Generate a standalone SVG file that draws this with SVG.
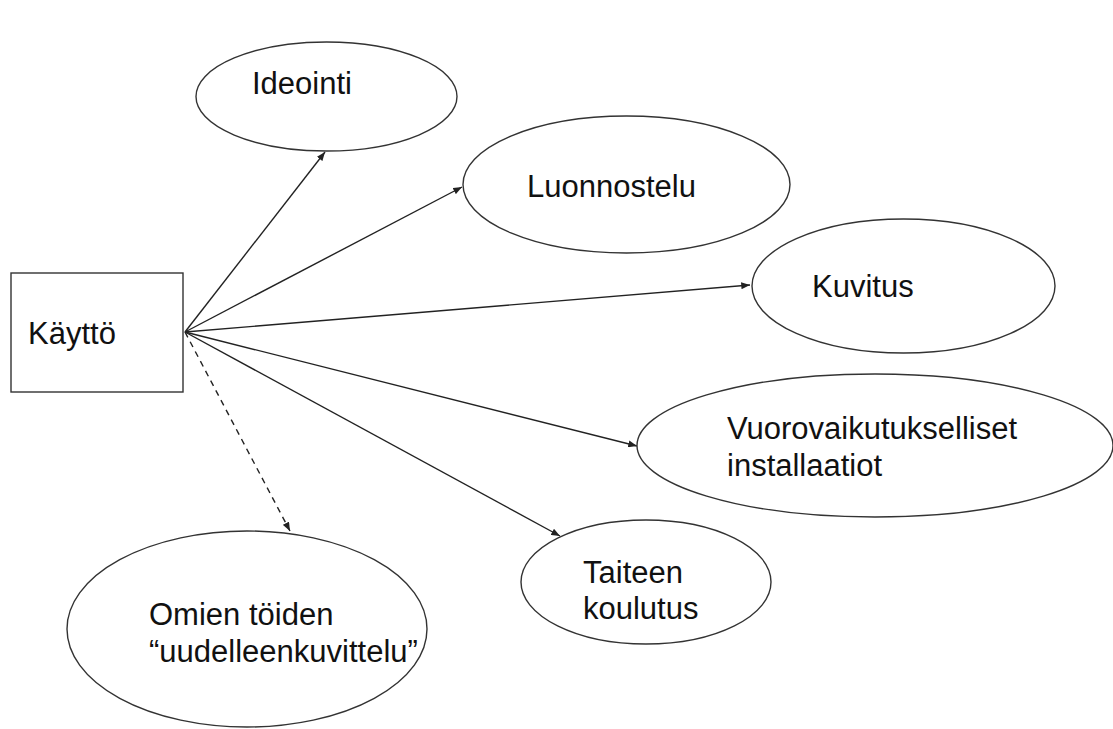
<svg xmlns="http://www.w3.org/2000/svg" width="1113" height="729" viewBox="0 0 1113 729">
  <defs>
    <marker id="arrow" viewBox="0 0 10 8" refX="10" refY="4" markerWidth="9" markerHeight="7" markerUnits="userSpaceOnUse" orient="auto">
      <path d="M0,0 L10,4 L0,8 Z" fill="#222"/>
    </marker>
    <style>
      .shape { fill: #fff; stroke: #333; stroke-width: 1.4; }
      .label { font-family: "Liberation Sans", Arial, sans-serif; font-size: 31px; fill: #111; }
      .link { stroke: #222; stroke-width: 1.4; fill: none; marker-end: url(#arrow); }
      .dashed { stroke-dasharray: 6 5; }
    </style>
  </defs>
  <rect width="1113" height="729" fill="#fff"/>

  <g id="connectors">
    <line class="link" x1="185" y1="332" x2="325" y2="152"/>
    <line class="link" x1="185" y1="332" x2="462" y2="187"/>
    <line class="link" x1="185" y1="332" x2="750" y2="285"/>
    <line class="link" x1="185" y1="332" x2="637" y2="446"/>
    <line class="link" x1="185" y1="332" x2="560" y2="536"/>
    <line class="link dashed" x1="185" y1="332" x2="290" y2="531"/>
  </g>

  <g id="kaytto">
    <rect class="shape" x="11" y="273" width="172" height="119"/>
    <text class="label" x="28" y="344">Käyttö</text>
  </g>

  <g id="ideointi">
    <ellipse class="shape" cx="326.5" cy="96.5" rx="130.5" ry="54.5"/>
    <text class="label" x="252" y="94">Ideointi</text>
  </g>

  <g id="luonnostelu">
    <ellipse class="shape" cx="626.5" cy="184.5" rx="163.5" ry="68.5"/>
    <text class="label" x="527" y="197">Luonnostelu</text>
  </g>

  <g id="kuvitus">
    <ellipse class="shape" cx="903.5" cy="286" rx="151.5" ry="67"/>
    <text class="label" x="812" y="297">Kuvitus</text>
  </g>

  <g id="vuorovaikutukselliset">
    <ellipse class="shape" cx="875" cy="445.5" rx="238" ry="71.5"/>
    <text class="label" x="727" y="439">Vuorovaikutukselliset</text>
    <text class="label" x="727" y="476">installaatiot</text>
  </g>

  <g id="taiteen-koulutus">
    <ellipse class="shape" cx="646" cy="582" rx="125" ry="62"/>
    <text class="label" x="583" y="583">Taiteen</text>
    <text class="label" x="583" y="619">koulutus</text>
  </g>

  <g id="omien-toiden">
    <ellipse class="shape" cx="247" cy="629" rx="180" ry="98"/>
    <text class="label" x="149" y="625">Omien töiden</text>
    <text class="label" x="149" y="662">“uudelleenkuvittelu”</text>
  </g>
</svg>
